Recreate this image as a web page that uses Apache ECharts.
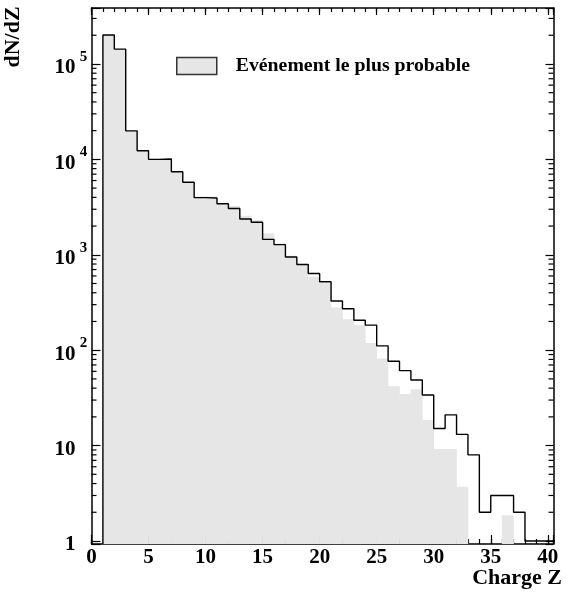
<!DOCTYPE html>
<html><head><meta charset="utf-8">
<script src="https://cdn.jsdelivr.net/npm/echarts@6/dist/echarts.min.js"></script>
<style>html,body{margin:0;padding:0;background:#fff}#c{width:568px;height:596px}</style>
</head><body><div id="c"></div>
<script>
// Charge Z bins (each bin spans [Z, Z+1])
const charges = [1,2,3,4,5,6,7,8,9,10,11,12,13,14,15,16,17,18,19,20,21,22,23,24,25,26,27,28,29,30,31,32,33,34,35,36,37,38,39,40];
// black outline histogram
const observed = [201000,143000,19900,12300,10000,10100,7430,5750,3970,3940,3430,3060,2370,2190,1450,1277,948,791,637,522,328,272,206,183,111,76.5,61,48.7,33.9,15.1,21,13.1,8,2,3,3,2,1,1,1];
// grey filled histogram "Evénement le plus probable"
const probable = [201000,143000,19900,12300,10000,10300,7430,5750,4080,4080,3520,3250,2570,2316,1680,1320,979,791,589,503,282,211,184,119,82,42,34.7,38.9,18.5,9.2,9.2,3.7,0,0,0,1.86,0,0,0,0];
// axis ticks
const yDecades = [0,1,2,3,4,5];
const yMinorMult = [2,3,4,5,6,7,8,9];
const xMajorTicks = [0,5,10,15,20,25,30,35,40];

const Y_MIN = 0.93, Y_MAX = 3.86e5, X_MIN = 0, X_MAX = 40.5;
const FONT = '"Liberation Serif","Times New Roman",serif';
const LEGEND_NAME = 'Evénement le plus probable';

const minorVals = [];
yDecades.forEach(k => yMinorMult.forEach(m => { const v = m * Math.pow(10, k); if (v < Y_MAX) minorVals.push(v); }));

const chart = echarts.init(document.getElementById('c'), null, {renderer: 'canvas'});

function xAxisDef(pos, interval, len, showLine, showLabel) {
  return {
    type: 'value', position: pos, min: X_MIN, max: X_MAX, interval: interval,
    axisLine: {show: showLine, onZero: false, lineStyle: {color: '#000', width: 1.5}},
    axisTick: {show: true, inside: true, length: len, lineStyle: {color: '#000', width: 1.2}},
    axisLabel: showLabel ? {
      show: true, margin: 3, color: '#000', fontFamily: FONT, fontWeight: 'bold', fontSize: 21,
      formatter: v => xMajorTicks.indexOf(v) >= 0 ? String(v) : ''
    } : {show: false},
    splitLine: {show: false}
  };
}
function yAxisDef(pos, len, showLabel) {
  return {
    type: 'log', logBase: 10, position: pos, min: Y_MIN, max: Y_MAX,
    axisLine: {show: true, onZero: false, lineStyle: {color: '#000', width: 1.5}},
    axisTick: {show: true, inside: true, length: len, lineStyle: {color: '#000', width: 1.2}},
    axisLabel: showLabel ? {
      show: true, margin: 3, color: '#000',
      formatter: v => {
        const k = Math.round(Math.log10(v));
        if (yDecades.indexOf(k) < 0 || Math.abs(v - Math.pow(10, k)) > 1e-6 * Math.pow(10, k)) return '';
        if (k === 0) return '{b|1}{s| }';
        if (k === 1) return '{b|10}{s| }';
        return '{b|10}{s|' + k + '}';
      },
      rich: {
        b: {fontFamily: FONT, fontWeight: 'bold', fontSize: 21, lineHeight: 21, color: '#000', padding: [8, 0, 0, 0]},
        s: {fontFamily: FONT, fontWeight: 'bold', fontSize: 15, lineHeight: 15, color: '#000', width: 10, align: 'left', padding: [0, 0, 14, 3]}
      }
    } : {show: false},
    splitLine: {show: false}
  };
}

chart.setOption({
  animation: false,
  backgroundColor: '#fff',
  grid: {left: 91.5, right: 14.5, top: 8, bottom: 52, containLabel: false},
  legend: {
    left: 171, top: 51, orient: 'vertical', itemWidth: 40, itemHeight: 17,
    data: [{name: LEGEND_NAME, icon: 'rect', itemStyle: {color: '#e6e6e6', borderColor: '#333', borderWidth: 1.5}}],
    textStyle: {fontFamily: FONT, fontWeight: 'bold', fontSize: 19.8, color: '#000', padding: [0, 0, 0, 14]},
    selectedMode: false
  },
  xAxis: [
    xAxisDef('bottom', 5, 9, true, true),
    xAxisDef('bottom', 1, 5, false, false),
    xAxisDef('top', 5, 7, true, false),
    xAxisDef('top', 1, 4, false, false)
  ],
  yAxis: [
    yAxisDef('left', 9, true),
    yAxisDef('right', 8, false)
  ],
  graphic: [
    {type: 'text', x: 13, y: 37, rotation: Math.PI / 2,
     style: {text: 'dN/dZ', fill: '#000', font: 'bold 22px ' + FONT, align: 'center', verticalAlign: 'middle'}},
    {type: 'text', x: 562, y: 578,
     style: {text: 'Charge Z', fill: '#000', font: 'bold 22px ' + FONT, align: 'right', verticalAlign: 'middle'}}
  ],
  series: [
    {
      name: LEGEND_NAME, type: 'custom', xAxisIndex: 0, yAxisIndex: 0, z: 1,
      itemStyle: {color: '#e6e6e6'},
      encode: {x: 0, y: 1},
      data: charges.map((z, i) => [z, probable[i]]),
      renderItem: (params, api) => {
        const v = api.value(1);
        if (!(v > 0)) return null;
        const z = api.value(0);
        const p0 = api.coord([z, v]);
        const p1 = api.coord([z + 1, v]);
        const cs = params.coordSys;
        const bottom = cs.y + cs.height;
        return {type: 'rect', shape: {x: p0[0] - 0.3, y: p0[1], width: p1[0] - p0[0] + 0.6, height: bottom - p0[1]},
                style: {fill: '#e6e6e6'}};
      }
    },
    {
      name: 'observed', type: 'line', xAxisIndex: 0, yAxisIndex: 0, z: 3,
      step: 'end', symbol: 'none', silent: true,
      lineStyle: {color: '#000', width: 1.4},
      data: [[charges[0], Y_MIN]].concat(charges.map((z, i) => [z, observed[i]])).concat([[charges[charges.length - 1] + 1, observed[observed.length - 1]]])
    },
    {
      name: 'minorTicks', type: 'custom', xAxisIndex: 0, yAxisIndex: 0, z: 4, silent: true,
      encode: {x: 0, y: 1},
      data: minorVals.map(v => [X_MIN, v]),
      renderItem: (params, api) => {
        const y = api.coord([X_MIN, api.value(1)])[1];
        const cs = params.coordSys;
        const xl = cs.x, xr = cs.x + cs.width;
        return {type: 'group', children: [
          {type: 'line', shape: {x1: xl, y1: y, x2: xl + 5, y2: y}, style: {stroke: '#000', lineWidth: 1.2}},
          {type: 'line', shape: {x1: xr - 5, y1: y, x2: xr, y2: y}, style: {stroke: '#000', lineWidth: 1.2}}
        ]};
      }
    }
  ]
});
</script></body></html>
